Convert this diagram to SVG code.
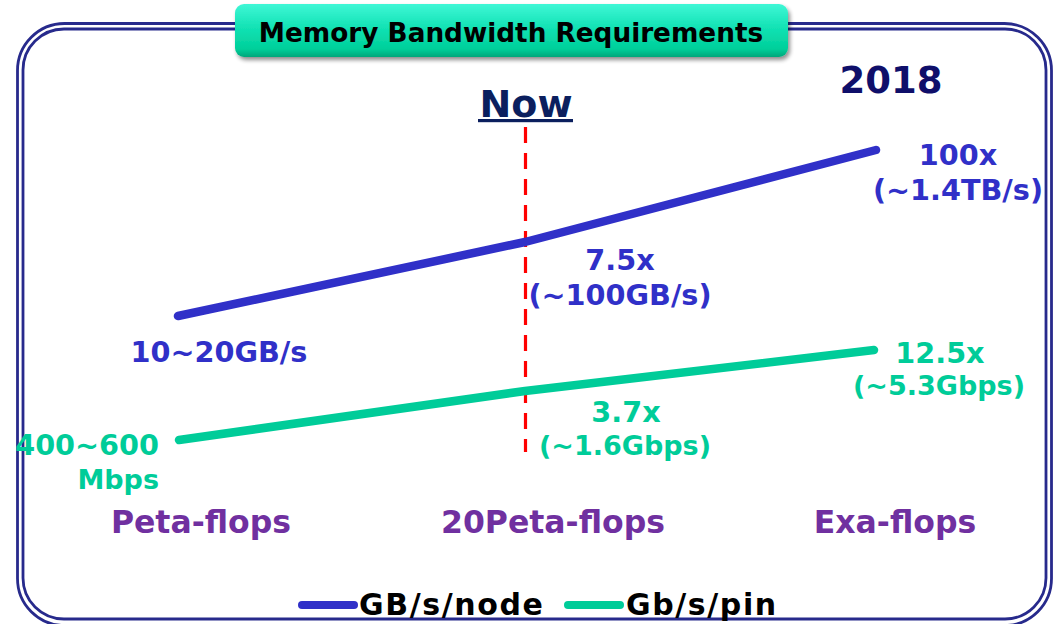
<svg xmlns="http://www.w3.org/2000/svg" width="1056" height="624" viewBox="0 0 1056 624">
  <defs>
    <linearGradient id="titleFill" x1="0" y1="0" x2="0" y2="1">
      <stop offset="0" stop-color="#3ff7d6"/>
      <stop offset="0.45" stop-color="#12e2b4"/>
      <stop offset="0.85" stop-color="#00cf9a"/>
      <stop offset="1" stop-color="#00a67a"/>
    </linearGradient>
    <filter id="titleShadow" x="-5%" y="-20%" width="110%" height="160%">
      <feGaussianBlur in="SourceAlpha" stdDeviation="2"/>
      <feOffset dx="2" dy="3" result="b"/>
      <feComponentTransfer><feFuncA type="linear" slope="0.45"/></feComponentTransfer>
      <feMerge><feMergeNode/><feMergeNode in="SourceGraphic"/></feMerge>
    </filter>
  </defs>
  <style>
    .frame { fill: none; stroke: #272a8c; stroke-width: 2.8; }
    .txt { font-family: "DejaVu Sans", Verdana, sans-serif; font-weight: bold; }
    .blue { fill: #3030c8; }
    .green { fill: #00cc99; }
    .purple { fill: #7030a0; }
    .navy { fill: #0f0f6a; }
    .val { font-size: 28.7px; text-anchor: middle; }
    .small { font-size: 27px; }
    .axis { font-size: 31.5px; text-anchor: middle; }
    .legend { font-size: 30px; fill: #000; letter-spacing: 1.6px; }
    .series { fill: none; stroke-width: 8.5; stroke-linecap: round; stroke-linejoin: round; }
  </style>

  <rect width="1056" height="624" fill="#ffffff"/>

  <!-- double rounded frame -->
  <g id="frame">
    <rect class="frame" x="17.5" y="23.5" width="1034" height="602" rx="47"/>
    <rect class="frame" x="23" y="29" width="1023" height="590" rx="41"/>
  </g>

  <!-- title banner -->
  <g id="title">
    <rect x="235" y="4" width="553" height="53" rx="9" fill="url(#titleFill)" filter="url(#titleShadow)"/>
    <text class="txt" x="511" y="42" font-size="26.3" text-anchor="middle" fill="#000">Memory Bandwidth Requirements</text>
  </g>

  <g id="year">
    <text class="txt navy" x="891" y="93" font-size="37" text-anchor="middle">2018</text>
  </g>

  <g id="now">
    <text class="txt" x="526" y="117" font-size="38" text-anchor="middle" fill="#0b1f5e">Now</text>
    <rect x="478" y="119" width="95" height="3.2" fill="#0b1f5e"/>
  </g>

  <g id="connectors">
    <line x1="525.5" y1="127" x2="525.5" y2="452" stroke="#ff0000" stroke-width="3.2" stroke-dasharray="16 10"/>
    <polyline class="series" stroke="#3030c8" points="178,316 525,242 876,150"/>
    <polyline class="series" stroke="#00cc99" points="179,440 525,391 874,350"/>
  </g>

  <!-- value labels -->
  <g id="gbps-node-labels" class="txt blue val">
    <text x="219" y="362">10~20GB/s</text>
    <text x="620" y="270">7.5x</text>
    <text x="620" y="305">(~100GB/s)</text>
    <text x="958" y="165">100x</text>
    <text x="958" y="200">(~1.4TB/s)</text>
  </g>
  <g id="gbps-pin-labels" class="txt green val">
    <text x="159" y="455" text-anchor="end">400~600</text>
    <text class="small" x="159" y="489" text-anchor="end">Mbps</text>
    <text x="626" y="422">3.7x</text>
    <text class="small" x="625" y="455">(~1.6Gbps)</text>
    <text x="940" y="363">12.5x</text>
    <text class="small" x="939" y="395">(~5.3Gbps)</text>
  </g>

  <!-- x axis categories -->
  <g id="axis" class="txt purple axis">
    <text x="201" y="533">Peta-flops</text>
    <text x="553" y="533">20Peta-flops</text>
    <text x="895" y="533">Exa-flops</text>
  </g>

  <!-- legend -->
  <g id="legend">
    <line x1="302" y1="605" x2="354" y2="605" stroke="#3030c8" stroke-width="8" stroke-linecap="round"/>
    <text class="txt legend" x="359" y="615">GB/s/node</text>
    <line x1="568" y1="605" x2="620" y2="605" stroke="#00cc99" stroke-width="8" stroke-linecap="round"/>
    <text class="txt legend" x="626" y="615">Gb/s/pin</text>
  </g>
</svg>
